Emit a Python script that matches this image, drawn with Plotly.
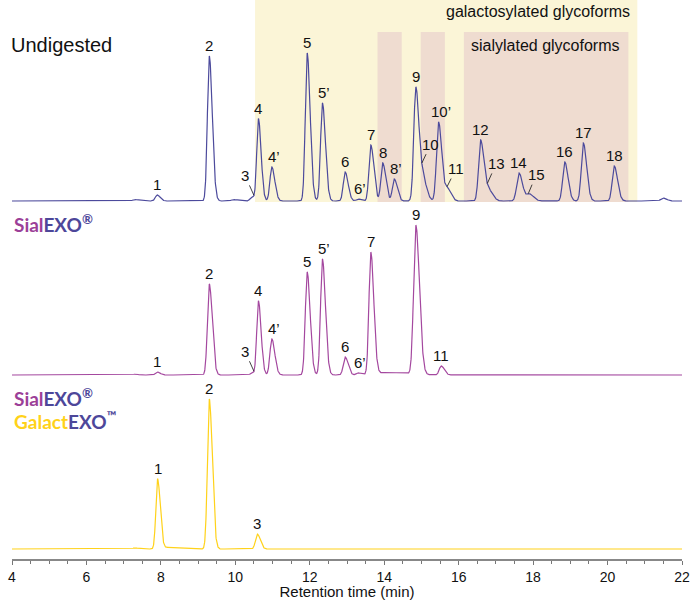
import numpy as np
import plotly.graph_objects as go

# ---------------- data ----------------
# Peak tables: retention time (min), height (a.u.), left sigma (min)
undig_rt = [7.30, 7.90, 9.30, 9.95, 10.45, 10.62, 10.98, 11.93, 12.34, 12.95, 13.30,
            13.64, 13.96, 14.27, 14.85, 15.05, 15.46, 15.70, 16.59, 16.80, 17.62,
            17.90, 18.85, 19.35, 20.18, 21.49]
undig_h = [1.5, 6, 145, 1.5, 4, 82, 34, 148, 98, 29, 2,
           56, 38, 22, 114, 20, 79, 12, 61, 11, 28,
           7, 39, 58, 35, 3]
undig_w = [0.06, 0.05, 0.05, 0.06, 0.05, 0.045, 0.05, 0.05, 0.05, 0.05, 0.05,
           0.05, 0.05, 0.05, 0.055, 0.06, 0.055, 0.06, 0.055, 0.07, 0.06,
           0.07, 0.055, 0.055, 0.055, 0.06]

sial_rt = [7.30, 7.90, 9.30, 10.45, 10.62, 10.98, 11.93, 12.34, 12.95, 13.30,
           13.64, 14.10, 14.85, 15.53, 17.0]
sial_h = [0.8, 3, 91, 2, 74, 36, 103, 116, 18, 2,
          122, 2.5, 149, 9, 0.5]
sial_w = [0.06, 0.05, 0.05, 0.05, 0.045, 0.05, 0.05, 0.05, 0.05, 0.05,
          0.05, 0.30, 0.06, 0.05, 0.8]

galact_rt = [7.30, 7.91, 8.20, 9.30, 10.59, 12.20]
galact_h = [1.0, 70, 1.5, 150, 15, 0.5]
galact_w = [0.06, 0.045, 0.15, 0.05, 0.05, 0.08]

tail_ratio = 1.6  # right-side sigma / left-side sigma (peak tailing)

# Peak labels: (text, retention time)
undig_labels = [("1", 7.90), ("2", 9.30), ("4", 10.62), ("4’", 10.98), ("5", 11.93),
                ("5’", 12.34), ("6", 12.95), ("6’", 13.30), ("7", 13.64), ("8", 13.96),
                ("8’", 14.27), ("9", 14.85), ("10’", 15.46), ("12", 16.59), ("14", 17.62),
                ("16", 18.85), ("17", 19.35), ("18", 20.18)]
undig_shoulders = [("3", 10.50, -9, -20), ("10", 15.01, 9, -19), ("11", 15.69, 9, -18),
                   ("13", 16.77, 9, -20), ("15", 17.87, 8, -19)]

sial_labels = [("1", 7.90), ("2", 9.30), ("4", 10.62), ("4’", 10.98), ("5", 11.93),
               ("5’", 12.34), ("6", 12.95), ("6’", 13.30), ("7", 13.64), ("9", 14.85),
               ("11", 15.53)]
sial_shoulders = [("3", 10.50, -9, -20)]

galact_labels = [("1", 7.91), ("2", 9.30), ("3", 10.59)]

# Highlighted retention-time regions
galacto_region = (10.53, 20.80)
sialyl_regions = [(13.82, 14.47), (14.98, 15.63), (16.14, 20.56)]

x_ticks = [4, 6, 8, 10, 12, 14, 16, 18, 20, 22]

# ---------------- layout constants ----------------
off_undig, off_sial, off_galact = 358, 184, 10
y_top = 559
col_undig = "#4c4a9c"
col_sial = "#a4489f"
col_galact = "#ffd21a"
col_exo = "#4d479a"
col_sial_logo = "#9c3f98"
FONT = "Liberation Sans, Arial, sans-serif"

x = np.arange(4.0, 22.0001, 0.005)


def chrom(xv, rts, hs, ws):
    xv = np.asarray(xv, dtype=float)
    y = np.zeros_like(xv)
    for rt, h, w in zip(rts, hs, ws):
        s = np.where(xv < rt, w, w * tail_ratio)
        y += h * np.exp(-0.5 * ((xv - rt) / s) ** 2)
    return y


fig = go.Figure()
series = [
    (undig_rt, undig_h, undig_w, off_undig, col_undig, "Undigested"),
    (sial_rt, sial_h, sial_w, off_sial, col_sial, "SialEXO"),
    (galact_rt, galact_h, galact_w, off_galact, col_galact, "SialEXO + GalactEXO"),
]
for rts, hs, ws, off, col, name in series:
    fig.add_trace(go.Scatter(x=x, y=chrom(x, rts, hs, ws) + off, mode="lines",
                             line=dict(color=col, width=1.2), name=name,
                             hoverinfo="skip"))

shapes = []
shapes.append(dict(type="rect", xref="x", yref="y", x0=galacto_region[0], x1=galacto_region[1],
                   y0=off_undig - 1, y1=y_top, fillcolor="#fbf5d7", line_width=0, layer="below"))
for a, b in sialyl_regions:
    shapes.append(dict(type="rect", xref="x", yref="y", x0=a, x1=b,
                       y0=off_undig - 1, y1=y_top - 32, fillcolor="#efdcd0", line_width=0,
                       layer="below"))

ann = []
lab_font = dict(family=FONT, size=15, color="#111111")


def add_labels(labels, rts, hs, ws, off):
    for txt, rt in labels:
        yv = float(chrom([rt], rts, hs, ws)[0]) + off
        ann.append(dict(x=rt, y=yv, xref="x", yref="y", text=txt, showarrow=False,
                        yanchor="bottom", yshift=0, xshift=(2 if "’" in txt else 0),
                        font=lab_font))


def add_shoulders(sh, rts, hs, ws, off):
    for txt, rt, ax, ay in sh:
        yv = float(chrom([rt], rts, hs, ws)[0]) + off
        ann.append(dict(x=rt, y=yv, xref="x", yref="y", text=txt, showarrow=True,
                        arrowhead=0, arrowwidth=0.8, arrowcolor="#111111",
                        ax=ax, ay=ay, standoff=0, startstandoff=0,
                        font=lab_font))


add_labels(undig_labels, undig_rt, undig_h, undig_w, off_undig)
add_shoulders(undig_shoulders, undig_rt, undig_h, undig_w, off_undig)
add_labels(sial_labels, sial_rt, sial_h, sial_w, off_sial)
add_shoulders(sial_shoulders, sial_rt, sial_h, sial_w, off_sial)
add_labels(galact_labels, galact_rt, galact_h, galact_w, off_galact)

# Region captions
ann.append(dict(x=galacto_region[1], y=y_top - 11, xref="x", yref="y", xanchor="right",
                xshift=-5, text="galactosylated glycoforms", showarrow=False,
                font=dict(family=FONT, size=16, color="#111111")))
ann.append(dict(x=sialyl_regions[-1][1], y=y_top - 45, xref="x", yref="y", xanchor="right",
                xshift=-6, text="sialylated glycoforms", showarrow=False,
                font=dict(family=FONT, size=16, color="#111111")))

# Trace titles / logos
ann.append(dict(x=4, y=y_top - 45, xref="x", yref="y", xanchor="left", xshift=-3,
                text="Undigested", showarrow=False,
                font=dict(family=FONT, size=20, color="#111111")))


def sial_logo():
    return (f"<span style='color:{col_sial_logo}'>Sial</span>"
            f"<span style='color:{col_exo}'>EXO<sup>®</sup></span>")


logo_font = dict(family="Lato, sans-serif", size=19, weight="bold")
ann.append(dict(x=4, y=y_top - 223, xref="x", yref="y", xanchor="left", xshift=0,
                text=sial_logo(), showarrow=False, font=logo_font))
ann.append(dict(x=4, y=y_top - 397, xref="x", yref="y", xanchor="left", xshift=0,
                text=sial_logo(), showarrow=False, font=logo_font))
ann.append(dict(x=4, y=y_top - 420, xref="x", yref="y", xanchor="left", xshift=0,
                text=(f"<span style='color:{col_galact}'>Galact</span>"
                      f"<span style='color:{col_exo}'>EXO<sup>™</sup></span>"),
                showarrow=False, font=logo_font))

fig.update_layout(
    width=700, height=600,
    margin=dict(l=12, r=18, t=0, b=41),
    plot_bgcolor="white", paper_bgcolor="white",
    showlegend=False,
    shapes=shapes, annotations=ann,
    xaxis=dict(range=[4, 22], tickvals=x_ticks, ticks="outside", ticklen=4, tickwidth=1,
               tickcolor="#777777", showline=True, linecolor="#888888", linewidth=1.5,
               showgrid=False, zeroline=False,
               minor=dict(dtick=0.5, ticks="outside", ticklen=3, tickcolor="#777777",
                          showgrid=False),
               tickfont=dict(family=FONT, size=14, color="#111111"),
               title=dict(text="Retention time (min)", standoff=2,
                          font=dict(family=FONT, size=15, color="#111111"))),
    yaxis=dict(range=[0, y_top], visible=False, fixedrange=True),
)

fig.write_html("out.html")
